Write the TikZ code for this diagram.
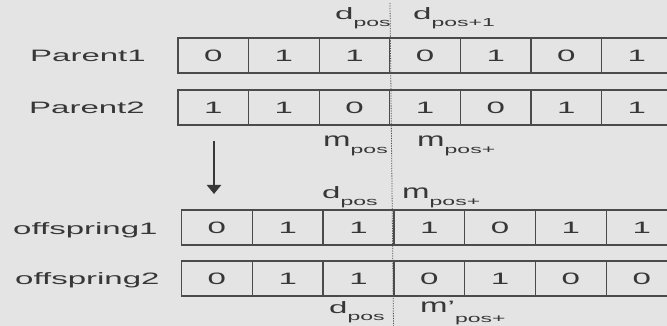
\documentclass[tikz,border=0pt]{standalone}
\usepackage{fontspec}
\setmainfont{Liberation Sans}[FakeStretch=2.0]
\usetikzlibrary{arrows.meta}
\definecolor{bg}{RGB}{228,228,228}
\definecolor{ink}{RGB}{55,55,55}
\definecolor{edge}{RGB}{75,75,75}
\newcommand\subl[1]{\raisebox{-7pt}{\fontsize{11.5}{12}\selectfont #1}}
\newcommand\subll[1]{\raisebox{-10pt}{\fontsize{11.5}{12}\selectfont #1}}
\newcommand\tallm{\scalebox{1}[1.2]{m}}
\newcommand\mainsize{\fontsize{16.5}{19}\selectfont}
\begin{document}
\begin{tikzpicture}[x=1pt,y=-1pt,
  cell/.style={draw=edge, line width=1.3pt, minimum width=70.6pt, minimum height=35pt, inner sep=0pt, text=ink, font=\mainsize},
  ocell/.style={cell, minimum width=70.8pt},
  rowlab/.style={anchor=base west, inner sep=0pt, text=ink, font=\mainsize},
  lab/.style={anchor=base west, inner sep=0pt, text=ink, font=\mainsize},
  cutline/.style={draw=edge, line width=0.8pt, dash pattern=on 1.2pt off 1.3pt},
  downarrow/.style={draw=ink, line width=2.2pt, -{Triangle[width=14pt,length=9pt]}}]
\fill[bg] (0,0) rectangle (667,326);
\clip (0,0) rectangle (667,326);
% row labels
\node[rowlab] (lp1) at (30,61.5) {Parent1};
\node[rowlab] (lp2) at (29,113.5) {Parent2};
\node[rowlab] (lo1) at (13,234) {offspring1};
\node[rowlab] (lo2) at (15,284.5) {offspring2};
% cells
\foreach \v [count=\i from 0] in {0,1,1,0,1,0,1}
  \node[cell] (pa\i) at ({213.3+70.6*\i},55.5) {\v};
\foreach \v [count=\i from 0] in {1,1,0,1,0,1,1}
  \node[cell] (pb\i) at ({213.3+70.6*\i},107.5) {\v};
\foreach \v [count=\i from 0] in {0,1,1,1,0,1,1}
  \node[ocell] (oa\i) at ({216.9+70.8*\i},227.5) {\v};
\foreach \v [count=\i from 0] in {0,1,1,0,1,0,0}
  \node[ocell] (ob\i) at ({216.9+70.8*\i},278.5) {\v};
% cut line
\coordinate (cutT) at (390,3);
\coordinate (cutB) at (393.5,326);
\draw[cutline] (cutT) -- (cutB);
% arrow
\coordinate (arS) at (214,141);
\coordinate (arE) at (214,194);
\draw[downarrow] (arS) -- (arE);
% labels
\node[lab] (t1) at (335,20) {d\subl{pos}};
\node[lab] (t2) at (413,20) {d\subl{pos+1}};
\node[lab] (m1) at (323,146.5) {\tallm\subl{pos}};
\node[lab] (m2) at (417,146.5) {\tallm\subl{pos+}};
\node[lab] (u1) at (322,198) {d\subl{pos}};
\node[lab] (u2) at (402,198) {\tallm\subl{pos+}};
\node[lab] (b1) at (329,313) {d\subl{pos}};
\node[lab] (b2) at (420,312) {\tallm'\subll{pos+}};
\end{tikzpicture}
\end{document}
